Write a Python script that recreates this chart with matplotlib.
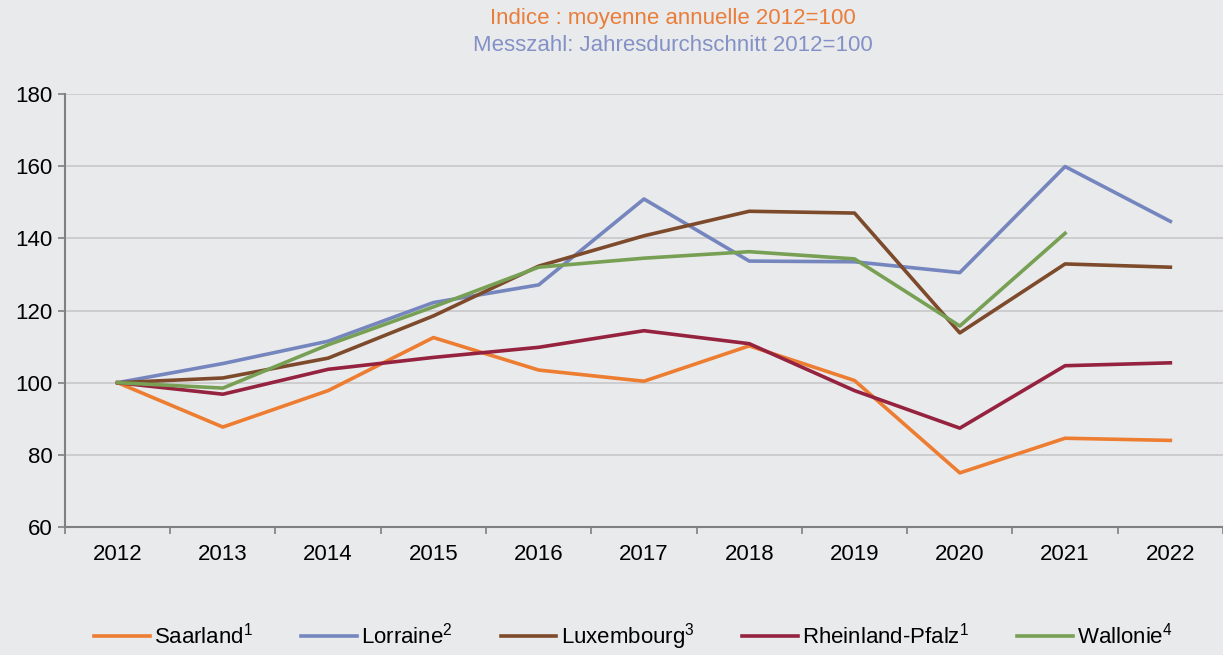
import matplotlib
matplotlib.use("Agg")
import matplotlib.pyplot as plt
import numpy as np

years = ['2012', '2013', '2014', '2015', '2016', '2017', '2018', '2019', '2020', '2021', '2022']

saarland = [100, 87.7, 97.8, 112.5, 103.5, 100.4, 110.2, 100.6, 75.0, 84.6, 84.0]
lorraine = [100, 105.3, 111.5, 122.2, 127.1, 150.9, 133.7, 133.5, 130.5, 159.9, 144.7]
luxembourg = [100, 101.3, 106.8, 118.5, 132.3, 140.7, 147.5, 147.0, 113.8, 132.9, 132.0]
rheinland = [100, 96.8, 103.7, 107.0, 109.8, 114.4, 110.8, 97.8, 87.4, 104.7, 105.5]
wallonie = [100, 98.5, 110.5, 121.0, 132.0, 134.5, 136.3, 134.3, 115.7, 141.4, np.nan]

series = [
    ('Saarland$^1$', saarland, '#ED7D31'),
    ('Lorraine$^2$', lorraine, '#7586BE'),
    ('Luxembourg$^3$', luxembourg, '#7D4A2C'),
    ('Rheinland-Pfalz$^1$', rheinland, '#95233F'),
    ('Wallonie$^4$', wallonie, '#77A055'),
]

plt.rcParams['font.family'] = ['Liberation Sans', 'DejaVu Sans']
plt.rcParams['mathtext.fontset'] = 'custom'
plt.rcParams['mathtext.rm'] = 'Liberation Sans'
plt.rcParams['mathtext.it'] = 'Liberation Sans'
plt.rcParams['mathtext.default'] = 'regular'

bg = '#E9EAEC'
fs = 16
fig = plt.figure(figsize=(12.23, 6.55), dpi=100, facecolor=bg)
ax = fig.add_axes([0.0531, 0.1954, 0.9469, 0.6611])
ax.set_facecolor(bg)

x = np.arange(len(years))
for name, vals, col in series:
    ax.plot(x, vals, color=col, lw=2.6, label=name)

ax.set_ylim(60, 180)
ax.set_yticks(range(60, 181, 20))
ax.set_xlim(-0.5, len(years) - 0.5)
ax.set_xticks(x)
ax.set_xticklabels(years)
ax.set_xticks(np.arange(-0.5, len(years), 1), minor=True)
ax.tick_params(axis='x', which='major', length=0, pad=12, labelsize=fs)
ax.tick_params(axis='x', which='minor', length=5, color='#808080', width=1.2)
ax.tick_params(axis='y', length=5, color='#808080', width=1.2, labelsize=fs, pad=4)
ax.grid(axis='y', color='#C8C8CA', lw=1.2)
ax.set_axisbelow(True)
for s in ['top', 'right']:
    ax.spines[s].set_visible(False)
for s in ['left', 'bottom']:
    ax.spines[s].set_color('#808080')
    ax.spines[s].set_linewidth(1.5)

fig.text(0.55, 0.972, 'Indice : moyenne annuelle 2012=100', color='#E97D3A',
         ha='center', va='center', fontsize=fs)
fig.text(0.55, 0.931, 'Messzahl: Jahresdurchschnitt 2012=100', color='#8491C6',
         ha='center', va='center', fontsize=fs)

fig.legend(loc='lower center', bbox_to_anchor=(0.518, -0.026), ncol=5, frameon=False,
           fontsize=fs, handlelength=2.5, handletextpad=0.2, columnspacing=2.15)

fig.savefig('out.png', dpi=100, facecolor=bg)
